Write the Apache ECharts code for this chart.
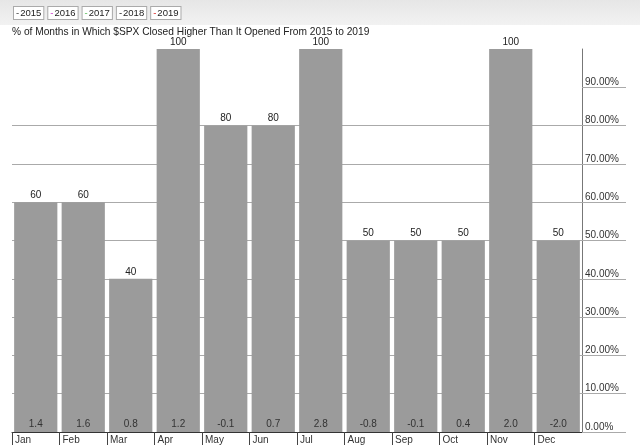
<!DOCTYPE html>
<html>
<head>
	<meta charset="UTF-8">
	<title>% of Months in Which $SPX Closed Higher</title>
	<script src="https://cdn.jsdelivr.net/npm/echarts@6/dist/echarts.min.js"></script>
	<style>
		html, body { margin: 0; padding: 0; background: #fff; }
		#chart { width: 640px; height: 448px; }
	</style>
</head>
<body>
<div id="chart"></div>
<script type="text/javascript">
	// data
	var months = ['Jan', 'Feb', 'Mar', 'Apr', 'May', 'Jun', 'Jul', 'Aug', 'Sep', 'Oct', 'Nov', 'Dec'];
	var pctHigher = [60, 60, 40, 100, 80, 80, 100, 50, 50, 50, 100, 50];
	var avgChange = ['1.4', '1.6', '0.8', '1.2', '-0.1', '0.7', '2.8', '-0.8', '-0.1', '0.4', '2.0', '-2.0'];
	var years = ['2015', '2016', '2017', '2018', '2019'];
	var yearColors = ['#333', '#cc33cc', '#55bb55', '#111', '#dd2222'];
	var yTicks = [0, 10, 20, 30, 40, 50, 60, 70, 80, 90];

	var font = 'Liberation Sans, Arial, sans-serif';
	var chart = echarts.init(document.getElementById('chart'));

	var rich = {};
	for (var i = 0; i < years.length; i++) {
		rich['c' + i] = { color: yearColors[i], fontSize: 9.5, fontFamily: font, padding: [0, 1, 0, 0] };
	}

	// empty series just to get the legend boxes
	var yearSeries = years.map(function (y, i) {
		return { name: y, type: 'line', data: [], color: yearColors[i] };
	});

	var option = {
		animation: false,
		backgroundColor: '#fff',
		textStyle: { fontFamily: font },
		graphic: [{
			type: 'rect',
			left: 0, top: 0,
			shape: { width: 640, height: 25 },
			style: {
				fill: new echarts.graphic.LinearGradient(0, 0, 0, 1, [
					{ offset: 0, color: '#e6e6e6' },
					{ offset: 1, color: '#f2f2f2' }
				])
			},
			z: -10
		}],
		title: {
			text: '% of Months in Which $SPX Closed Higher Than It Opened From 2015 to 2019',
			left: 7,
			top: 22,
			textStyle: { fontSize: 10.2, fontWeight: 'normal', color: '#222', fontFamily: font }
		},
		legend: {
			left: 4,
			top: 1,
			icon: 'none',
			itemWidth: 0,
			itemHeight: 10,
			itemGap: -1,
			selectedMode: false,
			data: years,
			formatter: function (name) {
				return '{c' + years.indexOf(name) + '|-}' + name;
			},
			textStyle: {
				fontSize: 9.5,
				color: '#222',
				fontFamily: font,
				backgroundColor: '#fff',
				borderColor: '#aaa',
				borderWidth: 1,
				padding: [1, 2, 1, 2],
				rich: rich
			}
		},
		grid: { left: 12, right: 58, top: 49, bottom: 16, containLabel: false },
		xAxis: [{
			type: 'category',
			position: 'bottom',
			data: months,
			axisLine: { lineStyle: { color: '#333', width: 1 } },
			axisTick: { show: false },
			axisLabel: { show: false },
			splitLine: { show: false }
		}, {
			type: 'category',
			position: 'bottom',
			boundaryGap: false,
			data: months.concat(['']),
			axisLine: { show: false },
			axisTick: {
				show: true,
				length: 13,
				interval: function (i) { return i < months.length; },
				lineStyle: { color: '#444' }
			},
			axisLabel: {
				interval: 0,
				align: 'left',
				margin: 3,
				padding: [0, 0, 0, 3],
				fontSize: 10,
				color: '#333',
				fontFamily: font
			},
			splitLine: { show: false }
		}],
		yAxis: {
			type: 'value',
			position: 'right',
			min: 0,
			max: 100,
			interval: 10,
			axisLine: { show: true, lineStyle: { color: '#777' } },
			axisTick: {
				show: true,
				customValues: yTicks,
				length: 44,
				lineStyle: { color: '#aaa' }
			},
			axisLabel: {
				customValues: yTicks,
				formatter: function (v) { return v.toFixed(2) + '%'; },
				verticalAlign: 'bottom',
				margin: 3,
				fontSize: 10,
				color: '#333',
				fontFamily: font
			},
			splitLine: { show: true, showMaxLine: false, lineStyle: { color: '#aaa', width: 1 } }
		},
		series: [{
			name: 'pct',
			type: 'bar',
			data: pctHigher,
			barCategoryGap: '9%',
			barGap: '-100%',
			itemStyle: { color: '#9b9b9b' },
			label: {
				show: true,
				position: 'top',
				distance: 2,
				fontSize: 10,
				color: '#222',
				fontFamily: font
			},
			silent: true
		}, {
			name: 'avg',
			type: 'bar',
			data: pctHigher,
			barCategoryGap: '9%',
			barGap: '-100%',
			itemStyle: { color: 'rgba(0,0,0,0)' },
			label: {
				show: true,
				position: 'insideBottom',
				distance: 3,
				fontSize: 10,
				color: '#333',
				fontFamily: font,
				formatter: function (p) { return avgChange[p.dataIndex]; }
			},
			silent: true
		}].concat(yearSeries)
	};

	chart.setOption(option);
</script>
</body>
</html>
